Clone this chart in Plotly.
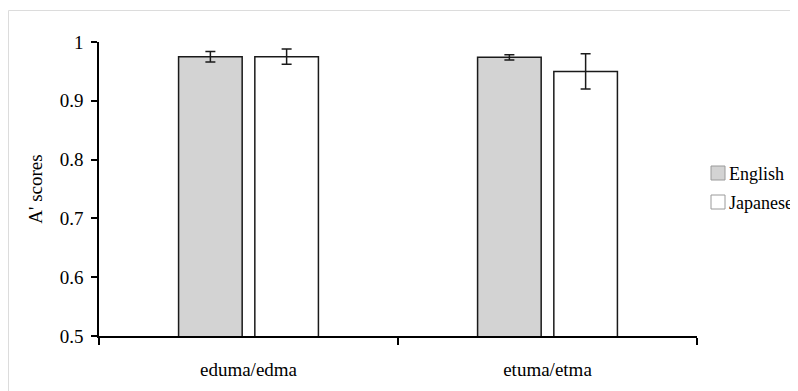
import plotly.graph_objects as go

categories = ["eduma/edma", "etuma/etma"]
series_names = ["English", "Japanese"]
english_values = [0.975, 0.974]
english_errors = [0.009, 0.0045]
japanese_values = [0.975, 0.950]
japanese_errors = [0.013, 0.030]
ytick_values = [0.5, 0.6, 0.7, 0.8, 0.9, 1.0]
ytick_labels = ["0.5", "0.6", "0.7", "0.8", "0.9", "1"]

FONT = "Liberation Serif"
FS = 19
EDGE = "#1a1a1a"
FILLS = ["#d3d3d3", "#ffffff"]

fig = go.Figure()
for name, vals, errs, fill in zip(series_names,
                                  [english_values, japanese_values],
                                  [english_errors, japanese_errors], FILLS):
    fig.add_trace(go.Bar(
        name=name, x=categories, y=vals,
        marker=dict(color=fill, line=dict(color=EDGE, width=1.5)),
        error_y=dict(type="data", array=errs, color=EDGE, thickness=1.5, width=5),
        showlegend=False,
    ))

# page has an 8px body margin; figure sized to fill the rest of the window
W, H = 790, 383
L, R, T, B = 91, 101, 34, 55
pw, ph = W - L - R, H - T - B

def px_x(x):
    return (x - L) / pw

def px_y(y):
    return (H - B - y) / ph

# light outer frame
frame = dict(color="#dcdcdc", width=1)
fig.add_shape(type="line", xref="paper", yref="paper",
              x0=px_x(0.5), x1=px_x(820), y0=px_y(2.5), y1=px_y(2.5), line=frame)
fig.add_shape(type="line", xref="paper", yref="paper",
              x0=px_x(0.5), x1=px_x(0.5), y0=px_y(2.5), y1=px_y(420), line=frame)

# legend (drawn so it does not push the plot margins)
for i, (name, fill) in enumerate(zip(series_names, FILLS)):
    top = 158 + i * 29
    fig.add_shape(type="rect", xref="paper", yref="paper",
                  x0=px_x(703), x1=px_x(717), y0=px_y(top), y1=px_y(top + 14),
                  fillcolor=fill, line=dict(color="#9a9a9a", width=1))
    fig.add_annotation(xref="paper", yref="paper", x=px_x(719), y=px_y(top + 7.5),
                       xanchor="left", yanchor="middle", showarrow=False,
                       text=name, font=dict(family=FONT, size=18, color="black"))

fig.update_layout(
    width=W, height=H,
    margin=dict(l=L, r=R, t=T, b=B),
    paper_bgcolor="white", plot_bgcolor="white",
    font=dict(family=FONT, size=FS, color="black"),
    barmode="group", bargap=0.49, bargroupgap=0.166,
    showlegend=False,
    xaxis=dict(showline=True, linecolor="black", linewidth=1.5,
               ticks="outside", tickson="boundaries", ticklen=7, tickcolor="black", tickwidth=1.5,
               showgrid=False, ticklabelstandoff=15,
               tickfont=dict(family=FONT, size=FS, color="black")),
    yaxis=dict(range=[0.5, 1.0], showline=True, linecolor="black", linewidth=1.5,
               ticks="outside", ticklen=6, tickcolor="black", tickwidth=1.5,
               tickvals=ytick_values, ticktext=ytick_labels,
               showgrid=False, zeroline=False, ticklabelstandoff=4,
               tickfont=dict(family=FONT, size=FS, color="black"),
               title=dict(text="A' scores", standoff=12,
                          font=dict(family=FONT, size=FS, color="black"))),
)

fig.write_html("out.html")
